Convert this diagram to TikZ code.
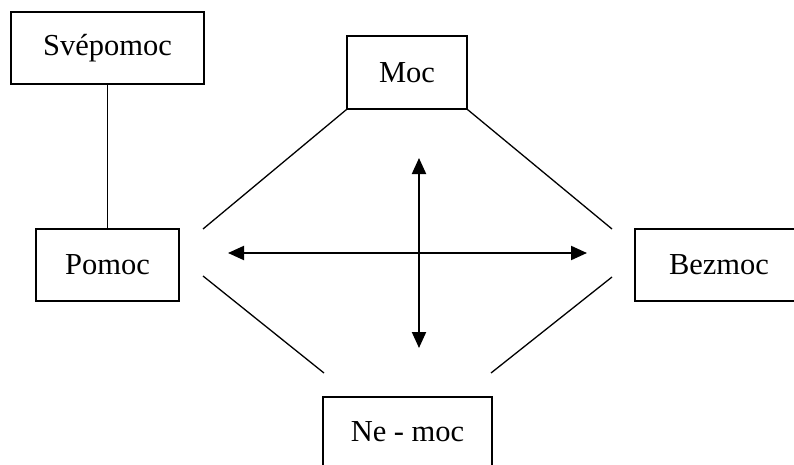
\documentclass[tikz,border=0pt]{standalone}
\usepackage{fontspec}
\setmainfont{Liberation Serif}
\usetikzlibrary{arrows.meta,positioning}

\tikzset{
  term/.style={draw, line width=1.3pt, inner sep=0pt, minimum height=72pt,
    font=\fontsize{30.5}{36}\selectfont},
  link/.style={line width=1.3pt},
  axis/.style={line width=2pt, {Triangle[length=16pt,width=14pt]}-{Triangle[length=16pt,width=14pt]}}
}

\begin{document}
\begin{tikzpicture}[x=1pt,y=-1pt]
  \useasboundingbox (0,0) rectangle (794,465);
  \clip (0,0) rectangle (794,465);

  \node[term, minimum width=193pt] (svepomoc) at (107.5,48) {Svépomoc};
  \node[term, minimum width=120pt, minimum height=73pt] (moc) at (407,72.5) {Moc};
  \node[term, minimum width=143pt] (pomoc) at (107.5,265) {Pomoc};
  \node[term, minimum width=168pt] (bezmoc) at (719,265) {Bezmoc};
  \node[term, minimum width=169pt, minimum height=70pt] (nemoc) at (407.5,432) {Ne - moc};

  \coordinate (ul) at (203,229);
  \coordinate (ur) at (612,229);
  \coordinate (ll) at (203,276);
  \coordinate (lr) at (612,277);
  \coordinate (nl) at (324,373);
  \coordinate (nr) at (491,373);

  \coordinate (west) at (228,253);
  \coordinate (east) at (587,253);
  \coordinate (north) at (419,158);
  \coordinate (south) at (419,348);

  \draw[link] (svepomoc) -- (pomoc);
  \draw[link] (moc.south west) -- (ul);
  \draw[link] (moc.south east) -- (ur);
  \draw[link] (ll) -- (nl);
  \draw[link] (lr) -- (nr);

  \draw[axis] (west) -- (east);
  \draw[axis] (north) -- (south);
\end{tikzpicture}
\end{document}
